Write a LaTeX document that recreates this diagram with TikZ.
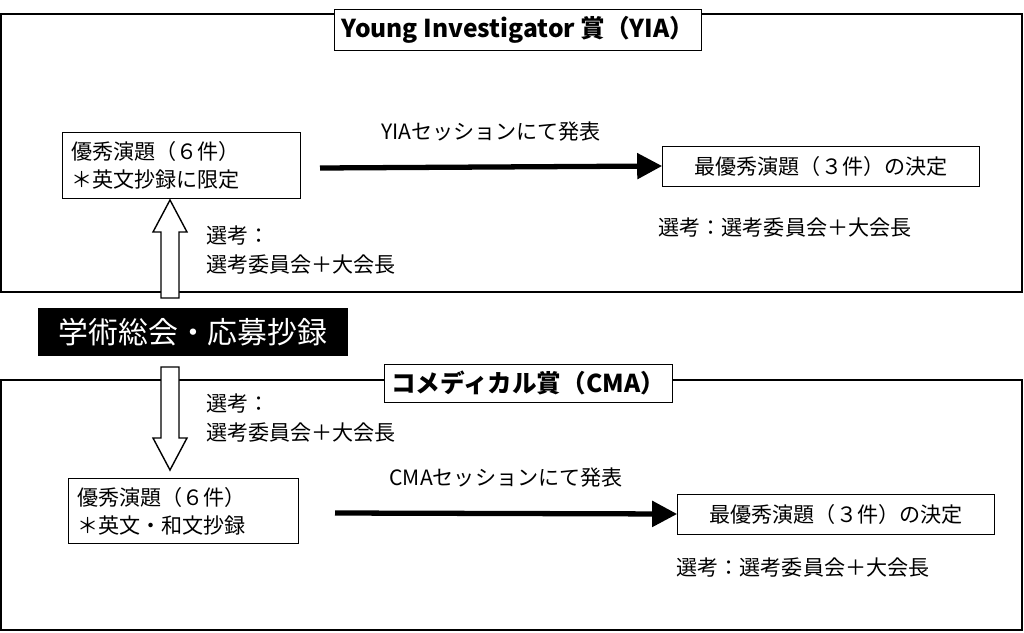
\documentclass[tikz,border=0pt]{standalone}
\usepackage{fontspec}
\setmainfont{Noto Sans CJK JP}
\usetikzlibrary{arrows.meta}
\tikzset{
  frame/.style={draw, line width=0.8pt},
  titlebox/.style={draw, fill=white, font=\fontsize{14}{16}\selectfont\bfseries, inner sep=4pt, minimum height=0.6cm},
  textbox/.style={draw, align=left, font=\fontsize{12}{16}\selectfont, inner sep=5pt, anchor=north west},
  plain/.style={align=left, font=\fontsize{12}{16}\selectfont},
  flow/.style={-{Triangle[length=0.5cm,width=0.5cm]}, line width=3pt},
  hollow/.style={draw, fill=white, line width=0.8pt}
}
\newcommand\holarrow[3]{% x, tail y, tip y
  \pgfmathsetmacro\hy{#3+(#2>#3 ? 1 : -1)*32}
  \draw[hollow] (#1-9,#2) -- (#1-9,\hy) -- (#1-17,\hy) -- (#1,#3) -- (#1+17,\hy) -- (#1+9,\hy) -- (#1+9,#2) -- cycle;}
\begin{document}
\begin{tikzpicture}[x=0.02cm, y=-0.02cm]
\useasboundingbox (0,0) rectangle (1024,632);
% frames
\draw[frame] (1,14) rectangle (1022,292);
\draw[frame] (1,380) rectangle (1022,630);
\node[titlebox] (yia) at (518,30) {Young Investigator 賞（YIA）};
\node[titlebox] (cma) at (528,383) {コメディカル賞（CMA）};
% YIA part
\node[textbox, text width=4.4cm] (cand1) at (62,132) {優秀演題（６件）\\ ＊英文抄録に限定};
\node[draw, font=\fontsize{12}{16}\selectfont, minimum width=6.34cm, minimum height=0.8cm] (best1) at (821,166) {最優秀演題（３件）の決定};
\draw[flow] (320,168) -- node[above=10pt, font=\fontsize{12}{16}\selectfont] {YIAセッションにて発表} (best1.west);
\node[plain] (sel1) at (785,228) {選考：選考委員会＋大会長};
% central box
\node[fill=black, text=white, font=\fontsize{17}{20}\selectfont, minimum width=6.2cm, minimum height=0.96cm] (entry) at (193,332) {学術総会・応募抄録};
\holarrow{170}{298}{200}
\node[plain, anchor=west] (sel2) at (200,250) {選考：\\選考委員会＋大会長};
% CMA part
\holarrow{170}{367}{470}
\node[plain, anchor=west] (sel3) at (200,418) {選考：\\選考委員会＋大会長};
\node[textbox, text width=4.24cm] (cand2) at (68,478) {優秀演題（６件）\\ ＊英文・和文抄録};
\node[draw, font=\fontsize{12}{16}\selectfont, minimum width=6.34cm, minimum height=0.8cm] (best2) at (836,514) {最優秀演題（３件）の決定};
\draw[flow] (335,513) -- node[above=10pt, font=\fontsize{12}{16}\selectfont] {CMAセッションにて発表} (best2.west);
\node[plain] (sel4) at (803,568) {選考：選考委員会＋大会長};
\end{tikzpicture}
\end{document}
